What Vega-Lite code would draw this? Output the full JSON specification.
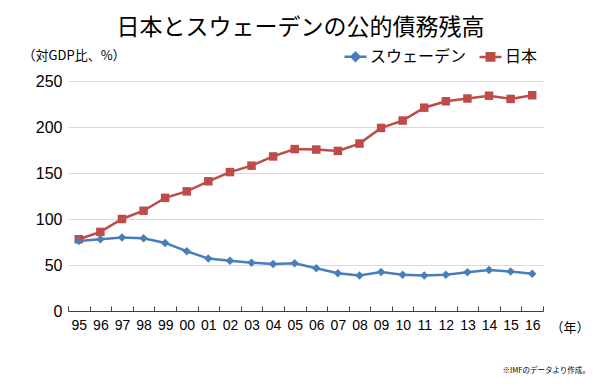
{
  "$schema": "https://vega.github.io/schema/vega-lite/v6.json",
  "width": 475,
  "height": 230,
  "autosize": "none",
  "padding": {"left": 68, "top": 81, "right": 57, "bottom": 76},
  "background": "white",
  "config": {"view": {"stroke": null}, "font": "Noto Sans CJK JP"},
  "title": {"text": "日本とスウェーデンの公的債務残高", "font": "Noto Sans CJK JP", "fontSize": 23, "fontWeight": "normal", "color": "#000", "anchor": "middle", "dx": -5, "offset": 4},
  "data": {"values": [
    {"year": "95", "country": "日本", "value": 78},
    {"year": "96", "country": "日本", "value": 86},
    {"year": "97", "country": "日本", "value": 100},
    {"year": "98", "country": "日本", "value": 109},
    {"year": "99", "country": "日本", "value": 123},
    {"year": "00", "country": "日本", "value": 130},
    {"year": "01", "country": "日本", "value": 141},
    {"year": "02", "country": "日本", "value": 151},
    {"year": "03", "country": "日本", "value": 158},
    {"year": "04", "country": "日本", "value": 168},
    {"year": "05", "country": "日本", "value": 176},
    {"year": "06", "country": "日本", "value": 175.5},
    {"year": "07", "country": "日本", "value": 174},
    {"year": "08", "country": "日本", "value": 182},
    {"year": "09", "country": "日本", "value": 199},
    {"year": "10", "country": "日本", "value": 207},
    {"year": "11", "country": "日本", "value": 221},
    {"year": "12", "country": "日本", "value": 228},
    {"year": "13", "country": "日本", "value": 231},
    {"year": "14", "country": "日本", "value": 234},
    {"year": "15", "country": "日本", "value": 230.5},
    {"year": "16", "country": "日本", "value": 234.5},
    {"year": "95", "country": "スウェーデン", "value": 76},
    {"year": "96", "country": "スウェーデン", "value": 78},
    {"year": "97", "country": "スウェーデン", "value": 80},
    {"year": "98", "country": "スウェーデン", "value": 79},
    {"year": "99", "country": "スウェーデン", "value": 74},
    {"year": "00", "country": "スウェーデン", "value": 65},
    {"year": "01", "country": "スウェーデン", "value": 57},
    {"year": "02", "country": "スウェーデン", "value": 54.5},
    {"year": "03", "country": "スウェーデン", "value": 52.5},
    {"year": "04", "country": "スウェーデン", "value": 51},
    {"year": "05", "country": "スウェーデン", "value": 52},
    {"year": "06", "country": "スウェーデン", "value": 46.5},
    {"year": "07", "country": "スウェーデン", "value": 41},
    {"year": "08", "country": "スウェーデン", "value": 38.5},
    {"year": "09", "country": "スウェーデン", "value": 42.5},
    {"year": "10", "country": "スウェーデン", "value": 39.5},
    {"year": "11", "country": "スウェーデン", "value": 38.5},
    {"year": "12", "country": "スウェーデン", "value": 39.5},
    {"year": "13", "country": "スウェーデン", "value": 42},
    {"year": "14", "country": "スウェーデン", "value": 44.5},
    {"year": "15", "country": "スウェーデン", "value": 43},
    {"year": "16", "country": "スウェーデン", "value": 40.5}
  ]},
  "encoding": {
    "x": {
      "field": "year", "type": "nominal",
      "sort": ["95","96","97","98","99","00","01","02","03","04","05","06","07","08","09","10","11","12","13","14","15","16"],
      "scale": {"type": "band", "paddingInner": 0, "paddingOuter": 0},
      "axis": {
        "title": "（年）", "titleX": 482, "titleY": 16, "titleAlign": "left", "titleBaseline": "middle",
        "titleFont": "Noto Sans CJK JP", "titleFontSize": 13, "titleFontWeight": "normal", "titleColor": "#000",
        "labelAngle": 0, "labelFont": "Liberation Sans", "labelFontSize": 14, "labelColor": "#000",
        "labelPadding": 12, "tickBand": "extent", "tickSize": -5, "tickColor": "#404040",
        "domainColor": "#404040", "grid": false
      }
    },
    "y": {
      "field": "value", "type": "quantitative",
      "scale": {"domain": [0, 250], "nice": false},
      "axis": {
        "title": "（対GDP比、%）", "titleAngle": 0, "titleAlign": "left", "titleBaseline": "middle",
        "titleX": -46, "titleY": -26, "titleFont": "Noto Sans CJK JP", "titleFontSize": 13,
        "titleFontWeight": "normal", "titleColor": "#000",
        "values": [0, 50, 100, 150, 200, 250], "labelFont": "Liberation Sans", "labelFontSize": 16,
        "labelColor": "#000", "labelPadding": 6, "ticks": false, "domain": false,
        "grid": true, "gridColor": "#D9D9D9", "gridWidth": 1
      }
    }
  },
  "layer": [
    {
      "mark": {"type": "line", "strokeWidth": 2.5},
      "encoding": {
        "color": {
          "field": "country", "type": "nominal",
          "scale": {"domain": ["スウェーデン", "日本"], "range": ["#4A7EBB", "#BE4B48"]},
          "legend": {
            "orient": "none", "legendX": 275, "legendY": -37, "direction": "horizontal", "title": null,
            "labelFont": "Noto Sans CJK JP", "labelFontSize": 16, "labelColor": "#000", "labelOffset": 2,
            "symbolSize": 484, "symbolStrokeWidth": 2.5, "columnPadding": 7, "padding": 0,
            "encode": {"symbols": {"update": {
              "shape": {"signal": "datum.value === '日本' ? 'M-1,0L1,0M-0.34,-0.34L0.34,-0.34L0.34,0.34L-0.34,0.34Z' : 'M-1,0L1,0M0,-0.36L0.36,0L0,0.36L-0.36,0Z'"},
              "fill": {"signal": "datum.value === '日本' ? '#BE4B48' : '#4A7EBB'"},
              "fillOpacity": {"value": 1}
            }}}
          }
        }
      }
    },
    {
      "mark": {"type": "point", "filled": true, "opacity": 1, "size": 72},
      "encoding": {
        "color": {"field": "country", "type": "nominal", "legend": null},
        "shape": {"field": "country", "type": "nominal", "scale": {"range": ["diamond", "square"]}, "legend": null},
        "y": {
          "field": "value", "type": "quantitative",
          "axis": {
            "orient": "right", "title": "※IMFのデータより作成。", "titleAngle": 0, "titleAlign": "left",
            "titleBaseline": "middle", "titleX": -41, "titleY": 289, "titleFont": "Noto Sans CJK JP",
            "titleFontSize": 7.5, "titleFontWeight": "normal", "titleColor": "#000", "titleLimit": 300,
            "labels": false, "ticks": false, "domain": false, "grid": false
          }
        }
      }
    }
  ],
  "resolve": {"axis": {"y": "independent"}}
}
